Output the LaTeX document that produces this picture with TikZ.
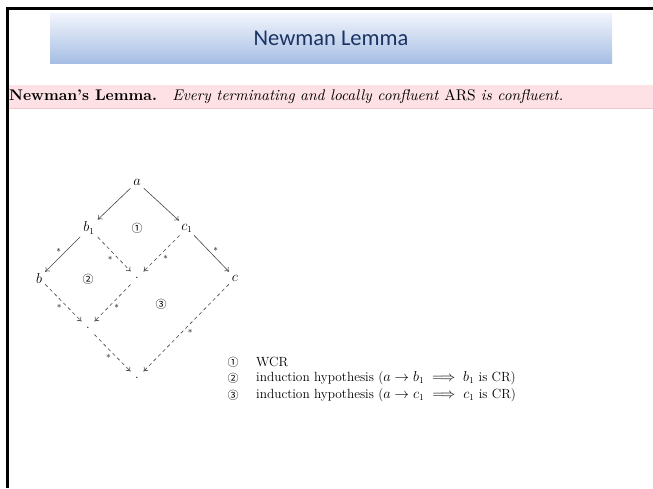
\documentclass[tikz,border=0pt]{standalone}
\usepackage{fontspec}
\usepackage{amsmath}
\usepackage{graphicx}
\newfontfamily\titlefont{Carlito}
\newfontfamily\circfont{Noto Sans CJK SC}
\usetikzlibrary{arrows.meta}
\definecolor{titleblue}{RGB}{28,52,100}
\definecolor{bantop}{RGB}{242,245,252}
\definecolor{banbot}{RGB}{166,190,228}
\definecolor{pinkfill}{RGB}{253,225,229}
\definecolor{pinkedge}{RGB}{242,200,206}
\definecolor{linegray}{RGB}{70,70,70}
\tikzset{
  obj/.style={inner sep=3pt, font=\fontsize{13.3}{16}\selectfont},
  dotn/.style={circle, minimum size=18pt, inner sep=0pt, font=\fontsize{13.3}{16}\selectfont},
  solidarr/.style={draw=linegray, line width=0.6pt, -{To[length=4pt,width=6pt]}},
  dasharr/.style={solidarr, dash pattern=on 3.5pt off 3pt},
  starlbl/.style={font=\fontsize{13.3}{16}\selectfont, inner sep=1.5pt},
  circ/.style={font=\circfont\fontsize{11}{12}\selectfont, inner sep=0pt},
  legtext/.style={anchor=west, inner sep=0pt, font=\fontsize{13.3}{16}\selectfont},
}
\begin{document}
\begin{tikzpicture}[x=1pt,y=-1pt]
\useasboundingbox (0,0) rectangle (653,488);
% title banner
\shade[top color=bantop, bottom color=banbot] (50,13) rectangle (612,63);
\node[font=\titlefont\fontsize{22.5}{26}\selectfont, text=titleblue] (title) at (331,38) {Newman Lemma};
% statement band
\fill[pinkfill] (8,85) rectangle (653,108);
\draw[pinkedge, line width=0.8pt] (8,108) -- (653,108);
\node[anchor=west, inner sep=0pt] (stmt) at (9,97) {\resizebox{554pt}{!}{\textbf{Newman's Lemma.}\hspace{1em}\emph{Every terminating and locally confluent} ARS \emph{is confluent.}}};
% borders
\draw[line width=2.5pt] (6,8.5) -- (653,8.5);
\draw[line width=2.5pt] (7.25,7.25) -- (7.25,488);
% diagram
\node[obj] (a) at (137,182) {$a$};
\node[obj] (b1) at (89,228) {$b_1$};
\node[obj] (c1) at (187,228) {$c_1$};
\node[obj] (b) at (39,278) {$b$};
\node[obj] (c) at (235,278) {$c$};
\node[dotn] (m) at (137,278) {.};
\node[dotn] (l) at (88,328) {.};
\node[dotn] (d) at (137,378) {.};
\node[circ] (n1) at (137,228) {①};
\node[circ] (n2) at (88,279) {②};
\node[circ] (n3) at (161,304) {③};
\draw[solidarr] (a) -- (b1);
\draw[solidarr] (a) -- (c1);
\draw[solidarr] (b1) -- node[starlbl, above left] (s1) {$\scriptstyle *$} (b);
\draw[solidarr] (c1) -- node[starlbl, above right] (s2) {$\scriptstyle *$} (c);
\draw[dasharr] (b1) -- node[starlbl, below left] (s3) {$\scriptstyle *$} (m);
\draw[dasharr] (c1) -- node[starlbl, below right] (s4) {$\scriptstyle *$} (m);
\draw[dasharr] (b) -- node[starlbl, below left] (s5) {$\scriptstyle *$} (l);
\draw[dasharr] (m) -- node[starlbl, below right] (s6) {$\scriptstyle *$} (l);
\draw[dasharr] (l) -- node[starlbl, below left] (s7) {$\scriptstyle *$} (d);
\draw[dasharr] (c) -- node[starlbl, below right] (s8) {$\scriptstyle *$} (d);
% legend
\node[circ] (k1) at (233,362) {①};
\node[circ] (k2) at (233,378.5) {②};
\node[circ] (k3) at (233,395) {③};
\node[legtext] (t1) at (256,362) {WCR};
\node[legtext] (t2) at (256,378.5) {induction hypothesis ($a \to b_1 \implies b_1$ is CR)};
\node[legtext] (t3) at (256,395) {induction hypothesis ($a \to c_1 \implies c_1$ is CR)};
\end{tikzpicture}
\end{document}
